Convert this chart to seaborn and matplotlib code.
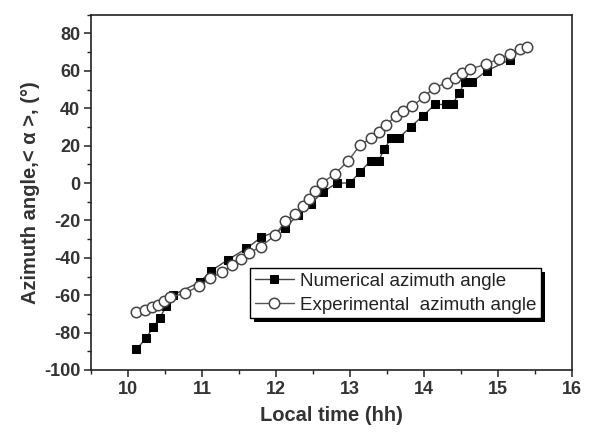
import matplotlib
matplotlib.use("Agg")
import matplotlib.pyplot as plt
import matplotlib.patheffects as pe
import seaborn as sns
import pandas as pd
from matplotlib.ticker import MultipleLocator

num_time = [10.11, 10.24, 10.34, 10.43, 10.51, 10.60, 10.97, 11.12, 11.35, 11.60, 11.80,
            12.12, 12.30, 12.47, 12.63, 12.82, 13.00, 13.14, 13.28, 13.39, 13.46, 13.56,
            13.66, 13.82, 13.99, 14.15, 14.30, 14.39, 14.47, 14.56, 14.65, 14.85, 15.17]
num_angle = [-89, -83, -77, -72, -66, -60, -53, -47, -41, -35, -29,
             -24, -17, -11, -5, 0, 0, 6, 12, 12, 18, 24,
             24, 30, 36, 42, 42, 42, 48, 54, 54, 60, 66]

exp_time = [10.11, 10.23, 10.32, 10.40, 10.48, 10.57, 10.77, 10.96, 11.11, 11.27, 11.41,
            11.52, 11.64, 11.79, 11.99, 12.12, 12.26, 12.36, 12.45, 12.53, 12.62, 12.80,
            12.98, 13.14, 13.29, 13.39, 13.49, 13.62, 13.72, 13.84, 14.00, 14.14, 14.31,
            14.42, 14.52, 14.63, 14.84, 15.02, 15.17, 15.30, 15.40]
exp_angle = [-69, -68, -66.5, -65, -63, -61, -59, -55, -51, -47.5, -44,
             -40.5, -37.5, -34, -28, -20.5, -16.5, -12.5, -8.5, -4.5, 0, 5,
             12, 20.5, 24, 27.5, 31, 36, 38.5, 41, 46, 51, 53.5,
             56, 59, 61, 63.5, 66.5, 69, 71.5, 72.5]

x_ticks = [10, 11, 12, 13, 14, 15, 16]
y_ticks = [-100, -80, -60, -40, -20, 0, 20, 40, 60, 80]

sns.set_style("ticks")
plt.rcParams['font.family'] = ['Liberation Sans', 'DejaVu Sans']
plt.rcParams['axes.unicode_minus'] = False

df_num = pd.DataFrame({"t": num_time, "a": num_angle})
df_exp = pd.DataFrame({"t": exp_time, "a": exp_angle})

fig = plt.figure(figsize=(5.89, 4.33), dpi=100)
ax = fig.add_axes([0.155, 0.1455, 0.8156, 0.8205])

sns.lineplot(data=df_num, x="t", y="a", ax=ax, sort=False, color="#444444", lw=1.0,
             marker="s", markersize=5.5, markerfacecolor="black", markeredgecolor="black",
             label="Numerical azimuth angle", zorder=3)
sns.lineplot(data=df_exp, x="t", y="a", ax=ax, sort=False, color="#555555", lw=1.0,
             marker="o", markersize=7.5, markerfacecolor="white", markeredgecolor="#444444",
             markeredgewidth=1.1, label="Experimental  azimuth angle", zorder=4)

ax.set_xlim(9.5, 16)
ax.set_ylim(-100, 90)
ax.set_xticks(x_ticks)
ax.set_yticks(y_ticks)
ax.xaxis.set_minor_locator(MultipleLocator(0.5))
ax.yaxis.set_minor_locator(MultipleLocator(10))
for s in ax.spines.values():
    s.set_visible(True)
    s.set_color("#222222")
    s.set_linewidth(1.2)
ax.tick_params(which="major", direction="out", length=5, width=1.1, color="#222222",
               labelsize=13, labelcolor="#333333", pad=3)
ax.tick_params(which="minor", direction="out", length=3, width=1.0, color="#222222")
ax.tick_params(top=False, right=False)
for lab in ax.get_xticklabels() + ax.get_yticklabels():
    lab.set_fontweight("bold")

ax.set_xlabel("Local time (hh)", fontsize=14.5, fontweight="bold", color="#333333", labelpad=6)
ax.set_ylabel("Azimuth angle,< α >, (°)", fontsize=14.5, fontweight="bold", color="#333333", labelpad=3)

leg = ax.legend(loc="upper left", bbox_to_anchor=(0.33, 0.287), frameon=True, fancybox=False,
                shadow=False, fontsize=13.5, handlelength=2.1,
                borderpad=0.25, labelspacing=0.35, handletextpad=0.3, borderaxespad=0)
frame = leg.get_frame()
frame.set_edgecolor("black")
frame.set_linewidth(1.0)
frame.set_alpha(1.0)
frame.set_path_effects([pe.SimplePatchShadow(offset=(3, -3), shadow_rgbFace="black", alpha=1.0),
                        pe.Normal()])
for t in leg.get_texts():
    t.set_color("#222222")

fig.savefig("out.png", dpi=100, facecolor="white")
